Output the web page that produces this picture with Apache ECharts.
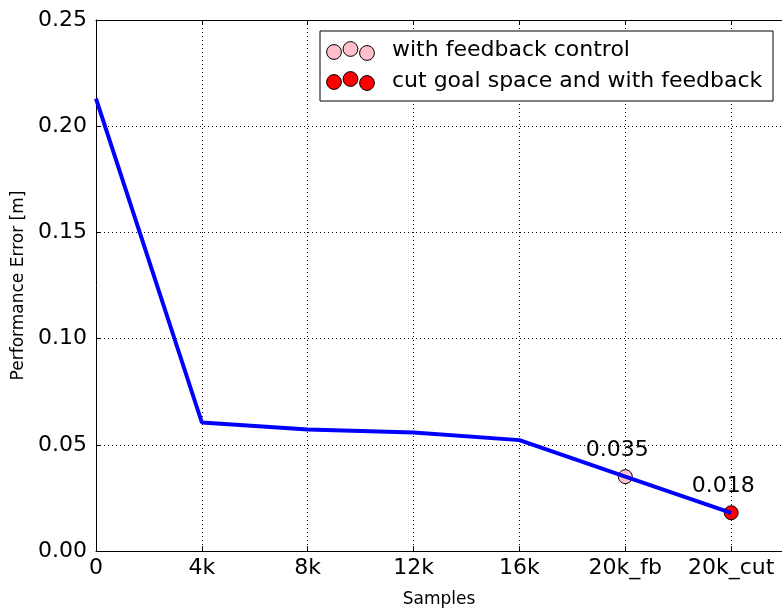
<!DOCTYPE html>
<html>
<head>
<meta charset="utf-8">
<script src="https://cdn.jsdelivr.net/npm/echarts@6/dist/echarts.min.js"></script>
<style>
html,body{margin:0;padding:0;background:#fff;}
#chart{width:782px;height:613px;}
</style>
</head>
<body>
<div id="chart"></div>
<script>
var categories = ['0', '4k', '8k', '12k', '16k', '20k_fb', '20k_cut'];
var errorValues = [0.213, 0.0605, 0.0572, 0.0558, 0.0522, 0.035, 0.018];
var feedbackPoint = [5, 0.035];
var cutPoint = [6, 0.018];
var yTicks = [0, 0.05, 0.10, 0.15, 0.20, 0.25];
var legendNames = ['with feedback control', 'cut goal space and with feedback'];

var FONT = 'DejaVu Sans';
var chart = echarts.init(document.getElementById('chart'));

var lineData = errorValues.map(function (v, i) { return [i, v]; });

function scatterSeries(name, pt, color) {
  return {
    name: name,
    type: 'scatter',
    data: [pt],
    symbol: 'circle',
    symbolSize: 14,
    z: 2,
    itemStyle: { color: color, borderColor: '#000', borderWidth: 1, opacity: 1 },
    label: {
      show: true,
      position: 'top',
      distance: 8,
      offset: [-8, 0],
      formatter: function (p) { return p.value[1].toFixed(3); },
      color: '#000',
      fontFamily: FONT,
      fontSize: 22
    },
    emphasis: { disabled: true }
  };
}

// legend graphics
var lx = 320, ly = 31;
function legendCircles(cy, color) {
  var offs = [[14, 1, 7.4], [30.5, -2, 7.4], [47, 2, 7.4]];
  return offs.map(function (o) {
    return {
      type: 'circle',
      shape: { cx: lx + o[0], cy: cy + o[1], r: o[2] },
      style: { fill: color, stroke: '#000', lineWidth: 1 },
      z: 100
    };
  });
}
var graphics = [
  {
    type: 'rect',
    shape: { x: lx, y: ly, width: 453, height: 70 },
    style: { fill: '#fff', stroke: '#000', lineWidth: 1 },
    z: 99
  }
].concat(legendCircles(ly + 20, '#ffc0cb'))
 .concat(legendCircles(ly + 50, '#ff0000'))
 .concat([
  {
    type: 'text', x: lx + 72, y: ly + 19, z: 100,
    style: { text: legendNames[0], fill: '#000', font: '22px "DejaVu Sans"', textVerticalAlign: 'middle', verticalAlign: 'middle' }
  },
  {
    type: 'text', x: lx + 72, y: ly + 50, z: 100,
    style: { text: legendNames[1], fill: '#000', font: '22px "DejaVu Sans"', textVerticalAlign: 'middle', verticalAlign: 'middle' }
  }
]);

var option = {
  backgroundColor: '#fff',
  animation: false,
  grid: { left: 96, top: 20, width: 686, height: 533, containLabel: false },
  xAxis: [
    {
      type: 'value', min: 0, max: 6.48, interval: 1,
      name: 'Samples', nameLocation: 'middle', nameGap: 40,
      nameTextStyle: { fontFamily: FONT, fontSize: 17, color: '#000' },
      axisLine: { show: true, onZero: false, lineStyle: { color: '#000', width: 1 } },
      axisTick: { show: true, inside: true, length: 5, lineStyle: { color: '#000' } },
      axisLabel: {
        show: true, margin: 6, color: '#000', fontFamily: FONT, fontSize: 22,
        formatter: function (v) { var i = Math.round(v); return categories[i] !== undefined ? categories[i] : ''; }
      },
      splitLine: { show: true, lineStyle: { color: '#000', width: 1, type: [1, 3] } }
    },
    {
      type: 'value', min: 0, max: 6.48, interval: 1, position: 'top',
      axisLine: { show: true, onZero: false, lineStyle: { color: '#000', width: 1 } },
      axisTick: { show: true, inside: true, length: 5, lineStyle: { color: '#000' } },
      axisLabel: { show: false },
      splitLine: { show: false }
    }
  ],
  yAxis: [
    {
      type: 'value', min: yTicks[0], max: yTicks[yTicks.length - 1], interval: 0.05,
      name: 'Performance Error [m]', nameLocation: 'middle', nameGap: 65,
      nameTextStyle: { fontFamily: FONT, fontSize: 17, color: '#000' },
      axisLine: { show: true, onZero: false, lineStyle: { color: '#000', width: 1 } },
      axisTick: { show: true, inside: true, length: 5, lineStyle: { color: '#000' } },
      axisLabel: {
        show: true, margin: 9, color: '#000', fontFamily: FONT, fontSize: 22,
        formatter: function (v) { return v.toFixed(2); }
      },
      splitLine: { show: true, lineStyle: { color: '#000', width: 1, type: [1, 3] } }
    }
  ],
  series: [
    scatterSeries(legendNames[0], feedbackPoint, '#ffc0cb'),
    scatterSeries(legendNames[1], cutPoint, '#ff0000'),
    {
      name: 'error',
      type: 'line',
      data: lineData,
      z: 5,
      showSymbol: false,
      symbol: 'none',
      lineStyle: { color: '#0000ff', width: 4 },
      emphasis: { disabled: true }
    }
  ],
  graphic: graphics
};
chart.setOption(option);
</script>
</body>
</html>
